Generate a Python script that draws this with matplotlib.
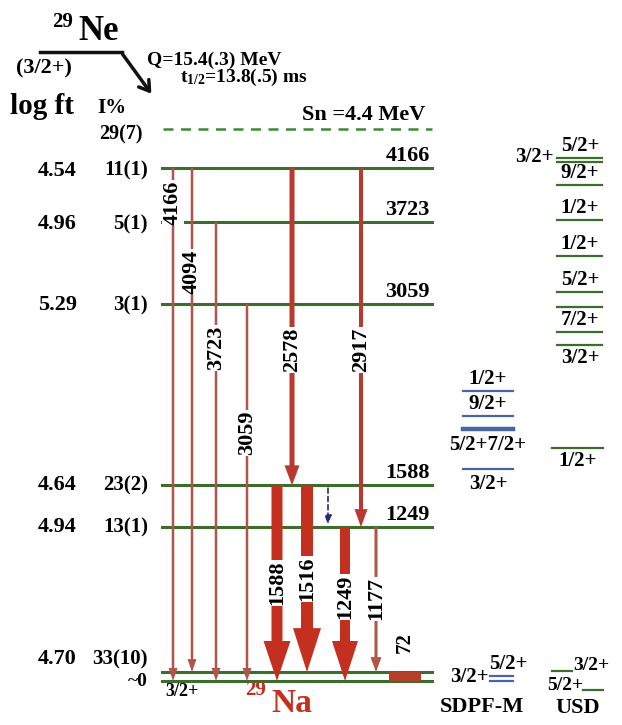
import matplotlib.pyplot as plt
from matplotlib.patches import FancyArrow, Rectangle

plt.rcParams['font.family'] = ['Liberation Serif', 'DejaVu Serif']
plt.rcParams['font.weight'] = 'bold'
plt.rcParams['mathtext.fontset'] = 'custom'
plt.rcParams['mathtext.rm'] = 'Liberation Serif:bold'
plt.rcParams['mathtext.bf'] = 'Liberation Serif:bold'
plt.rcParams['mathtext.it'] = 'Liberation Serif:bold'

# levels of 29Na fed in the beta decay (keV)
level_e = [4166, 3723, 3059, 1588, 1249, 72, 0]
level_logft = ['4.54', '4.96', '5.29', '4.64', '4.94', '4.70', '']
level_ipct = ['11(1)', '5(1)', '3(1)', '23(2)', '13(1)', '33(10)', '~0']
level_name = ['4166', '3723', '3059', '1588', '1249', '', '']
sn_e = 4480
sn_ipct = '29(7)'

# gamma transitions
gam_label = ['4166', '4094', '3723', '3059', '2578', '2917', '1588', '1516', '1249', '1177']
gam_from = [4166, 4166, 3723, 3059, 4166, 4166, 1588, 1588, 1249, 1249]
gam_to = [0, 72, 0, 0, 1588, 1249, 0, 72, 0, 72]

# shell model levels
sdpf_e = [2355, 2153, 2048, 1718, 40, 0]
sdpf_lab = ['1/2+', '9/2+', '5/2+7/2+', '3/2+', '5/2+', '3/2+']
usd_e = [4242, 4210, 4024, 3742, 3452, 3161, 3032, 2831, 2726, 1895, 80, -70]
usd_lab = ['5/2+', '3/2+', '9/2+', '1/2+', '1/2+', '5/2+', '', '7/2+', '3/2+', '1/2+', '3/2+', '5/2+']

# ---- layout (pixels on a 622x725 canvas, y in keV through the scale) ----
K = 0.1232          # px per keV
Y0 = 681            # pixel row of the ground state
def px(n):          # pixel distance -> keV
    return n / K
def ey(ypix):       # pixel row -> keV
    return (Y0 - ypix) / K

green = '#3b6e2c'
thin_red = '#b0554a'
red = '#c4301f'
dark = '#111111'

fig = plt.figure(figsize=(6.22, 7.25), dpi=100)
ax = fig.add_axes([0, 0, 1, 1])
ax.set_xlim(0, 622)
ax.set_ylim(ey(725), ey(0))
ax.axis('off')

# header
ax.text(52, ey(22), '29', fontsize=15, va='center', ha='left')
ax.text(78, ey(32), 'Ne', fontsize=25, va='center', ha='left')
ax.plot([40, 122], [ey(52), ey(52)], color=dark, lw=2.5)
ax.annotate('', xy=(153, ey(96)), xytext=(121, ey(52)),
            arrowprops=dict(arrowstyle='->,head_length=0.7,head_width=0.45', color=dark, lw=2.5))
ax.text(16, ey(68), '(3/2+)', fontsize=16, va='center', ha='left')
ax.text(147, ey(60), 'Q=15.4(.3) MeV', fontsize=14, va='center', ha='left')
ax.text(180, ey(77), r't$_{1/2}$=13.8(.5) ms', fontsize=14, va='center', ha='left')
ax.text(10, ey(106), 'log ft', fontsize=21, va='center', ha='left')
ax.text(97, ey(108), 'I%', fontsize=15, va='center', ha='left')

# Sn
ax.plot([163, 432], [sn_e, sn_e], color='#3a8a3a', lw=1.8, ls=(0, (4, 3)))
ax.text(143, sn_e - px(5), sn_ipct, fontsize=14.5, ha='right', va='center')
ax.text(425, sn_e + px(4), 'Sn =4.4 MeV', fontsize=16, ha='right', va='bottom')

# levels
text_shift = [-3, -2, -1, 0, 0, 13, 0]
for e, lf, ip, nm, sh in zip(level_e, level_logft, level_ipct, level_name, text_shift):
    ax.plot([162, 432], [e, e], color=green, lw=2.2, zorder=1)
    ax.text(77, e + px(sh), lf, fontsize=16, ha='right', va='center')
    ax.text(148, e + px(sh), ip, fontsize=15 if ip != '~0' else 14, ha='right', va='center')
    if nm:
        ax.text(430, e + px(2), nm, fontsize=16, ha='right', va='bottom')
ax.text(165, ey(691), '3/2+', fontsize=13, ha='left', va='center')

# gamma arrows
gam_x = [173, 192, 216, 247, 292, 361, 277, 307, 345, 376]
gam_w = [2.5, 2.5, 2.5, 2.5, 5, 4, 11, 12, 10, 3]
gam_hw = [9, 9, 9, 9, 15, 13, 27, 28, 26, 11]
gam_hl = [13, 13, 13, 13, 20, 18, 40, 44, 40, 15]
gam_col = [thin_red] * 4 + ['#b83a2e', '#b83a2e'] + [red, red, red, thin_red]
gam_lab_y = [203, 272, 348, 433, 350, 350, 583, 579, 597, 599]
for lab, e1, e2, x, w, hw, hl, c, ly in zip(gam_label, gam_from, gam_to, gam_x, gam_w,
                                            gam_hw, gam_hl, gam_col, gam_lab_y):
    ax.add_patch(FancyArrow(x, e1, 0, e2 - e1, width=w, head_width=hw, head_length=px(hl),
                            length_includes_head=True, color=c, lw=0, zorder=2))
    ax.text(x, ey(ly), lab, rotation=90, fontsize=16, ha='center', va='center', zorder=3,
            bbox=dict(facecolor='white', edgecolor='none', pad=0.5))

# 72 keV transition and dashed 1588 -> 1249
ax.add_patch(Rectangle((389, 0), 32, 72, color='#b5402a', lw=0, zorder=2))
ax.text(405, ey(643), '72', rotation=90, fontsize=15, ha='center', va='center')
ax.annotate('', xy=(328, 1249), xytext=(328, 1588),
            arrowprops=dict(arrowstyle='-|>,head_length=0.5,head_width=0.2', color='#2a2a70',
                            lw=1.2, ls=(0, (3, 2))), zorder=2)

# 29Na label
ax.text(245, ey(690), '29', fontsize=15, color=red, ha='left', va='center')
ax.text(271, ey(703), 'Na', fontsize=24, color=red, ha='left', va='center')

# SDPF-M
blue = '#4a64a8'
sdpf_x = [(463, 513), (463, 513), (463, 513), (463, 513), (490, 513), (490, 513)]
sdpf_lw = [1.6, 1.6, 3.2, 1.6, 1.6, 1.6]
for e, (x1, x2), w in zip(sdpf_e, sdpf_x, sdpf_lw):
    ax.plot([x1, x2], [e, e], color=blue, lw=w)
ax.text(488, sdpf_e[0] + px(2), sdpf_lab[0], fontsize=15, ha='center', va='bottom')
ax.text(488, sdpf_e[1] + px(2), sdpf_lab[1], fontsize=15, ha='center', va='bottom')
ax.text(488, sdpf_e[2] - px(6), sdpf_lab[2], fontsize=15, ha='center', va='top')
ax.text(488, sdpf_e[3] - px(5), sdpf_lab[3], fontsize=15, ha='center', va='top')
ax.text(489, sdpf_e[4] + px(2), sdpf_lab[4], fontsize=15, ha='left', va='bottom')
ax.text(489, sdpf_e[5] + px(4), sdpf_lab[5], fontsize=15, ha='right', va='center')
ax.text(482, ey(707), 'SDPF-M', fontsize=16, ha='center', va='center')

# USD
usd_x = [(557, 602)] * 9 + [(552, 603), (552, 572), (583, 603)]
for e, (x1, x2) in zip(usd_e, usd_x):
    ax.plot([x1, x2], [e, e], color=green, lw=1.6)
above = [0, 2, 3, 4, 5, 7]
for i in above:
    ax.text(580, usd_e[i] + px(2), usd_lab[i], fontsize=15, ha='center', va='bottom')
ax.text(554, ey(157), usd_lab[1], fontsize=15, ha='right', va='center')
ax.text(580, usd_e[8] - px(3), usd_lab[8], fontsize=15, ha='center', va='top')
ax.text(578, usd_e[9] - px(3), usd_lab[9], fontsize=15, ha='center', va='top')
ax.text(573, ey(666), usd_lab[10], fontsize=14, ha='left', va='center')
ax.text(583, ey(686), usd_lab[11], fontsize=14, ha='right', va='center')
ax.text(578, ey(708), 'USD', fontsize=16, ha='center', va='center')

fig.savefig('out.png', dpi=100)
